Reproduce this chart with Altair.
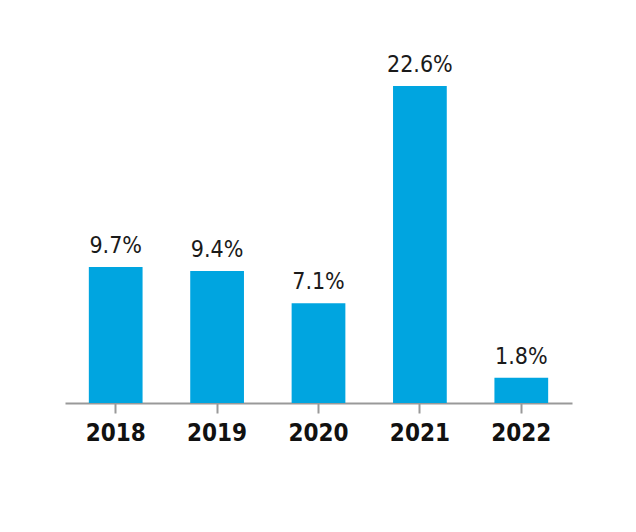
import altair as alt
import pandas as pd

years = ["2018", "2019", "2020", "2021", "2022"]
values = [9.7, 9.4, 7.1, 22.6, 1.8]
labels = ["9.7%", "9.4%", "7.1%", "22.6%", "1.8%"]

df = pd.DataFrame({"year": years, "value": values, "label": labels})

FONT = "DejaVu Sans Condensed"

x = alt.X("year:N", sort=years, title=None,
          scale=alt.Scale(paddingInner=0.47, paddingOuter=0.235),
          axis=alt.Axis(labelAngle=0, domainColor="#999999", domainWidth=2,
                        tickColor="#999999", tickWidth=2, tickSize=10,
                        labelPadding=8, labelFont=FONT, labelFontSize=24,
                        labelFontWeight="bold", labelColor="#111111",
                        grid=False))
y = alt.Y("value:Q", scale=alt.Scale(domain=[0, 25.87], nice=False, zero=True), axis=None)

bars = alt.Chart(df).mark_bar(color="#00A5E0").encode(x=x, y=y)
text = alt.Chart(df).mark_text(font=FONT, fontSize=23, color="#1a1a1a",
                               baseline="alphabetic", dy=-14).encode(
    x=alt.X("year:N", sort=years), y="value:Q", text="label:N")

chart = (bars + text).properties(
    width=507, height=363,
    background="white",
    padding={"left": 57, "top": 32, "right": 10, "bottom": 90},
    autosize=alt.AutoSizeParams(type="none"),
).configure_view(strokeWidth=0, stroke=None)

chart.save("out.html", embed_options={"renderer": "svg", "actions": False})
